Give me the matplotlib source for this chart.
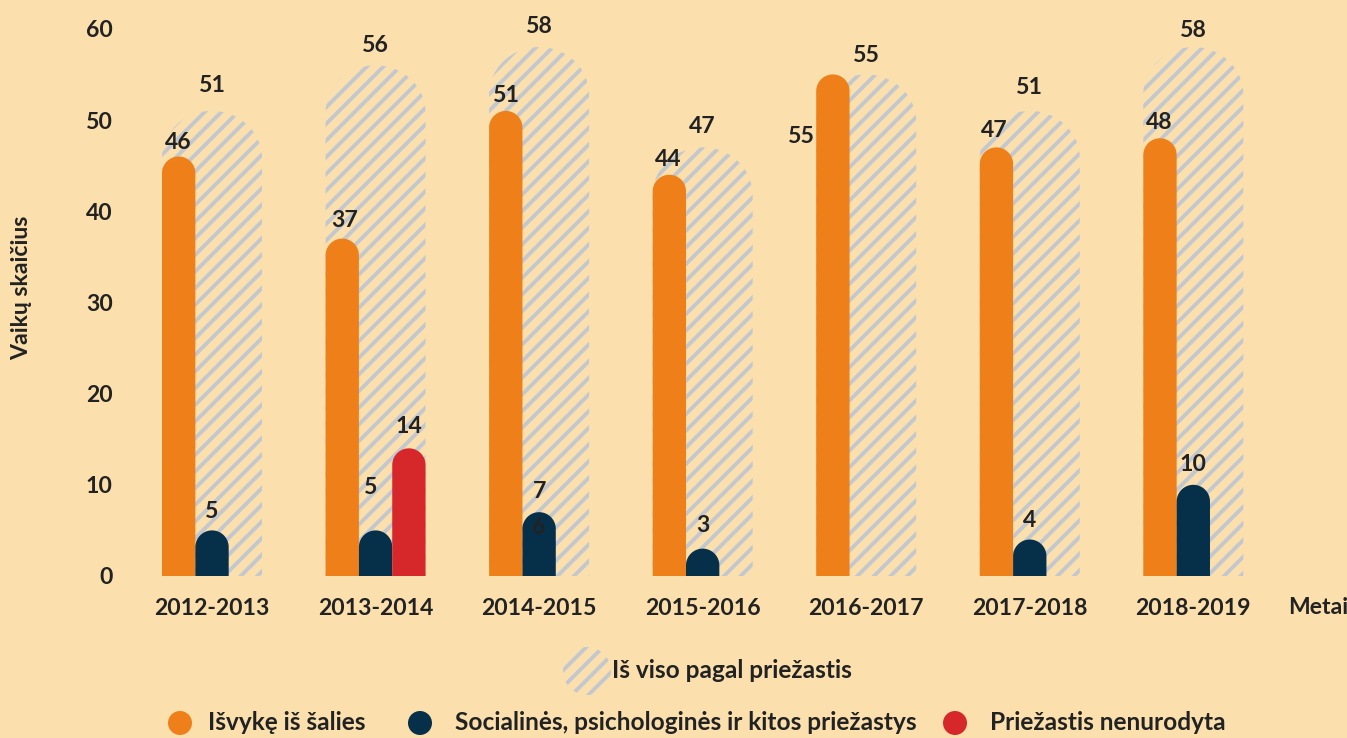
import numpy as np
import matplotlib
matplotlib.use("Agg")
import matplotlib.pyplot as plt
from matplotlib.patches import Polygon, Circle

# ---------------- data ----------------
years = ["2012-2013", "2013-2014", "2014-2015", "2015-2016", "2016-2017", "2017-2018", "2018-2019"]
total = [51, 56, 58, 47, 55, 51, 58]          # Iš viso pagal priežastis
abroad = [46, 37, 51, 44, 55, 47, 48]         # Išvykę iš šalies
social = [5, 5, 7, 3, 0, 4, 10]               # Socialinės, psichologinės ir kitos priežastys
unknown = [0, 14, 0, 0, 0, 0, 0]              # Priežastis nenurodyta
yticks = [0, 10, 20, 30, 40, 50, 60]

# ---------------- style ----------------
BG = "#FBE0AE"
ORANGE = "#EF8019"
NAVY = "#06304A"
RED = "#D6282B"
HATCH = "#C3C8CF"
TXT = "#222222"
FONT = ["Lato", "DejaVu Sans"]
FS = 8.3
FS_LEG = 8.8

plt.rcParams["font.family"] = FONT
plt.rcParams["hatch.linewidth"] = 1.4

W, H, DPI = 1347, 738, 200
fig = plt.figure(figsize=(W / DPI, H / DPI), dpi=DPI, facecolor=BG)
ax = fig.add_axes([130 / W, (H - 576) / H, (1280 - 130) / W, 565.4 / H])
ax.set_facecolor(BG)
ax.set_xlim(-0.5015, 6.53)
ax.set_ylim(0, 62)
for s in ax.spines.values():
    s.set_visible(False)

# pixel scale of data units
p0 = ax.transData.transform((0, 0))
p1 = ax.transData.transform((1, 1))
sx, sy = p1[0] - p0[0], p1[1] - p0[1]


def rounded_bar(x0, w, h, rfac=1.0, **kw):
    if h <= 0:
        return None
    r_px = w * sx / 2 * rfac
    ry = min(r_px / sy, h)
    th = np.linspace(0, np.pi, 80)
    xc = x0 + w / 2
    ax_ = xc + (w / 2) * np.cos(th)
    ay_ = (h - ry) + ry * np.sin(th)
    verts = [(x0, 0), (x0 + w, 0)] + list(zip(ax_, ay_))
    p = Polygon(verts, closed=True, **kw)
    ax.add_patch(p)
    return p


x = np.arange(len(years))
TW = 100 / sx          # total bar width
SW = TW / 3            # sub-bar width

for i in x:
    left = i - TW / 2
    rounded_bar(left, TW, total[i], rfac=0.95, facecolor="none", edgecolor=HATCH,
                hatch="////", linewidth=0, zorder=1)
    rounded_bar(left, SW, abroad[i], facecolor=ORANGE, edgecolor="none", zorder=2)
    rounded_bar(left + SW, SW, social[i], facecolor=NAVY, edgecolor="none", zorder=2)
    rounded_bar(left + 2 * SW, SW, unknown[i], facecolor=RED, edgecolor="none", zorder=2)

LBL = dict(fontsize=FS, fontweight="bold", color=TXT, ha="center", va="center",
           textcoords="offset pixels", zorder=5)

# label offsets (pixels from bar top to label centre)
tot_off = [25, 20, 21, 21, 19, 23, 17]
abr_off = [(0, 14), (2, 18), (1, 15), (-1, 15), (-31, -62), (-2, 17), (-1, 16)]
soc_off = [(0, 19), (-5, 43), (0, 21), (0, 23), None, (0, 19), (0, 20)]

for i in x:
    left = i - TW / 2
    ax.annotate(str(total[i]), (i, total[i]), xytext=(0, tot_off[i]), **LBL)
    ax.annotate(str(abroad[i]), (left + SW / 2, abroad[i]), xytext=abr_off[i], **LBL)
    if social[i] > 0:
        ax.annotate(str(social[i]), (left + SW * 1.5, social[i]), xytext=soc_off[i], **LBL)
    if unknown[i] > 0:
        ax.annotate(str(unknown[i]), (left + SW * 2.5, unknown[i]), xytext=(0, 22), **LBL)
# stray label inside the 2014-2015 navy bar as in the original
ax.annotate("6", (2 - TW / 2 + SW * 1.5, social[2]), xytext=(0, -15), **LBL)

ax.set_xticks(x)
ax.set_xticklabels(years)
ax.set_yticks(yticks)
ax.tick_params(length=0, labelsize=FS, labelcolor=TXT)
ax.tick_params(axis="x", pad=8.0)
ax.tick_params(axis="y", pad=6.2)
for t in ax.get_xticklabels() + ax.get_yticklabels():
    t.set_fontweight("bold")

fig.text(22 / W, 1 - 288 / H, "Vaikų skaičius", rotation=90, ha="center", va="center",
         fontsize=FS, fontweight="bold", color=TXT)
fig.text(1288 / W, 1 - 607 / H, "Metai", ha="left", va="center",
         fontsize=FS, fontweight="bold", color=TXT)

# ---------------- legend (manual) ----------------
def px(xp, yp):
    return (xp / DPI, (H - yp) / DPI)

fig.add_artist(Circle(px(587, 671), 24 / DPI, transform=fig.dpi_scale_trans,
                      facecolor="none", edgecolor=HATCH, hatch="////", linewidth=0))
fig.text(612 / W, 1 - 671 / H, "Iš viso pagal priežastis", ha="left", va="center",
         fontsize=FS_LEG, fontweight="bold", color=TXT)

items = [(180, 208, ORANGE, "Išvykę iš šalies"),
         (420, 455, NAVY, "Socialinės, psichologinės ir kitos priežastys"),
         (955, 990, RED, "Priežastis nenurodyta")]
for cx, tx, col, lab in items:
    fig.add_artist(Circle(px(cx, 723), 12 / DPI, transform=fig.dpi_scale_trans,
                          facecolor=col, edgecolor="none"))
    fig.text(tx / W, 1 - 723 / H, lab, ha="left", va="center",
             fontsize=FS_LEG, fontweight="bold", color=TXT)

fig.savefig("out.png", dpi=DPI, facecolor=BG)
